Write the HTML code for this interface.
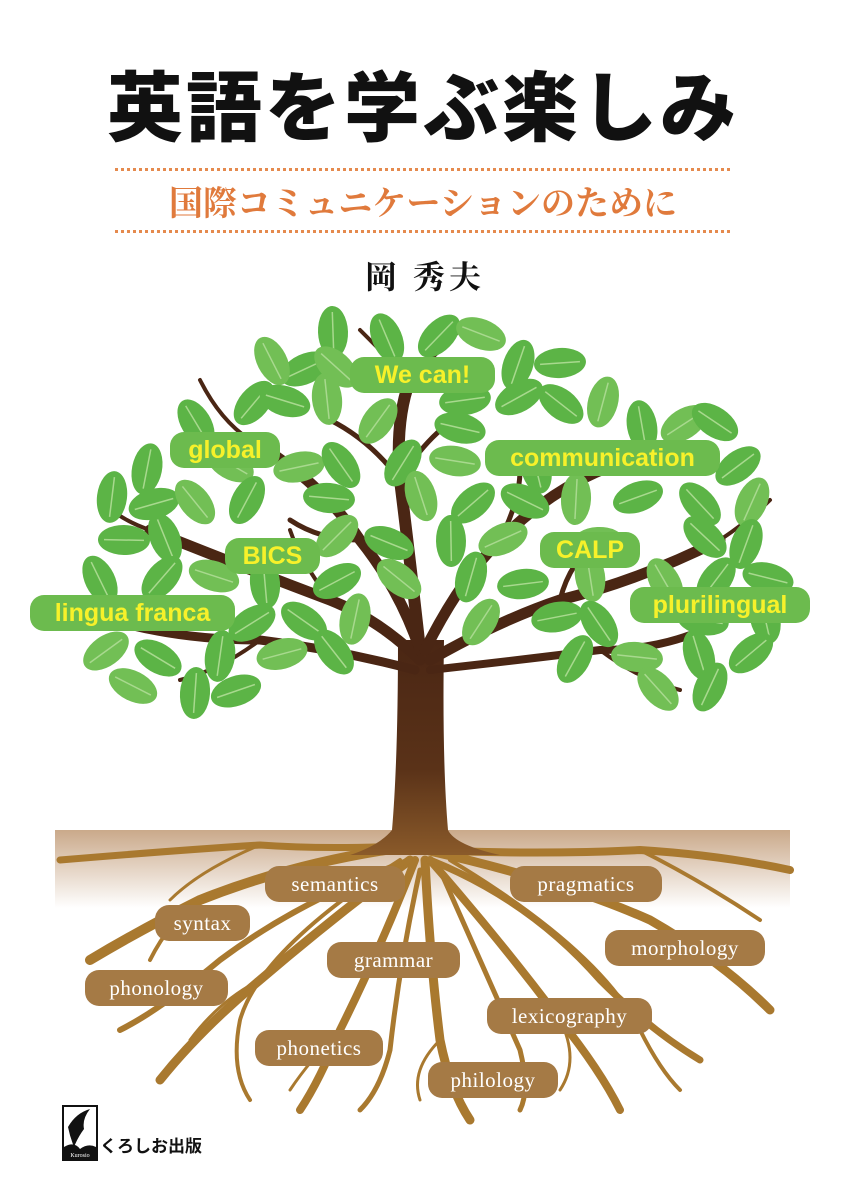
<!DOCTYPE html>
<html><head><meta charset="utf-8"><style>
html,body{margin:0;padding:0;background:#fff}
body{width:846px;height:1200px;position:relative;overflow:hidden;font-family:"Liberation Sans","Noto Sans CJK JP",sans-serif}
.t{position:absolute;left:0;width:846px;text-align:center}
.dot{position:absolute;left:115px;width:615px;height:0;border-top:3px dotted #e58a4e}
.g{position:absolute;background:#6cbb4e;border-radius:14px;color:#f7f12a;font-weight:bold;font-size:25px;text-align:center;line-height:36px;height:36px;font-family:"Liberation Sans",sans-serif}
.b{position:absolute;background:#a57a45;border-radius:14px;color:#fff;font-size:21px;text-align:center;line-height:36px;height:36px;font-family:"Liberation Serif",serif;letter-spacing:0.5px}
</style></head><body>
<div class="t" style="top:52px;font-size:76px;font-weight:900;color:#111;font-family:'Noto Sans CJK JP',sans-serif;letter-spacing:3px;line-height:100px">英語を学ぶ楽しみ</div>
<div class="dot" style="top:168px"></div>
<div class="t" style="top:176px;font-size:34px;color:#e07a3c;font-family:'Noto Serif CJK SC','Noto Sans CJK JP',serif;font-weight:bold;line-height:50px">国際コミュニケーションのために</div>
<div class="dot" style="top:230px"></div>
<div class="t" style="top:252px;font-size:32px;color:#111;font-family:'Noto Serif CJK SC',serif;font-weight:bold;line-height:46px;letter-spacing:4px;padding-left:4px;box-sizing:border-box">岡 秀夫</div>

<svg id="s" width="846" height="1200" style="position:absolute;left:0;top:0">
<defs>
<linearGradient id="gr" x1="0" y1="0" x2="0" y2="1"><stop offset="0" stop-color="#caa98a"/><stop offset="1" stop-color="#fff"/></linearGradient>
<linearGradient id="tr" x1="0" y1="0" x2="0" y2="1"><stop offset="0" stop-color="#4a2614"/><stop offset="0.6" stop-color="#5a3218"/><stop offset="1" stop-color="#8a5a2a"/></linearGradient>
</defs>
<rect x="55" y="830" width="735" height="78" fill="url(#gr)"/>
<g id="roots" fill="none" stroke="#a9792f" stroke-linecap="round"></g>
<path d="M398 640 Q398 760 392 830 Q380 845 350 855 L500 855 Q455 845 448 830 Q442 760 444 640 Z" fill="url(#tr)"/>
<g id="br" fill="none" stroke="#4a2614" stroke-linecap="round"></g>
<g id="lv"></g>
</svg>

<div class="g" style="left:350px;top:357px;width:145px">We can!</div>
<div class="g" style="left:170px;top:432px;width:110px">global</div>
<div class="g" style="left:485px;top:440px;width:235px">communication</div>
<div class="g" style="left:225px;top:538px;width:95px">BICS</div>
<div class="g" style="left:540px;top:532px;width:100px">CALP</div>
<div class="g" style="left:30px;top:595px;width:205px">lingua franca</div>
<div class="g" style="left:630px;top:587px;width:180px">plurilingual</div>

<div class="b" style="left:265px;top:866px;width:140px">semantics</div>
<div class="b" style="left:510px;top:866px;width:152px">pragmatics</div>
<div class="b" style="left:155px;top:905px;width:95px">syntax</div>
<div class="b" style="left:605px;top:930px;width:160px">morphology</div>
<div class="b" style="left:327px;top:942px;width:133px">grammar</div>
<div class="b" style="left:85px;top:970px;width:143px">phonology</div>
<div class="b" style="left:487px;top:998px;width:165px">lexicography</div>
<div class="b" style="left:255px;top:1030px;width:128px">phonetics</div>
<div class="b" style="left:428px;top:1062px;width:130px">philology</div>

<div style="position:absolute;left:62px;top:1105px;width:32px;height:52px;border:2px solid #111;background:#fff;overflow:hidden">
<svg width="32" height="52"><path d="M4 20 Q12 6 26 2 Q18 12 20 22 Q14 30 10 40 Q6 30 4 20Z" fill="#111"/><path d="M0 40 Q10 34 16 42 Q24 36 32 40 L32 52 L0 52Z" fill="#111"/><text x="16" y="50" font-size="6" fill="#fff" text-anchor="middle" font-family="Liberation Serif">Kurosio</text></svg></div>
<div style="position:absolute;left:100px;top:1133px;font-size:17px;font-weight:bold;color:#111;font-family:'Noto Sans CJK JP',sans-serif;line-height:24px">くろしお出版</div>

<script>
var NS="http://www.w3.org/2000/svg";
function P(g,d,w){var p=document.createElementNS(NS,"path");p.setAttribute("d",d);p.setAttribute("stroke-width",w);document.getElementById(g).appendChild(p);}
var R=[["M420 845 Q300 860 200 900 Q140 930 90 960",10],["M420 845 Q330 850 260 845 Q180 850 60 860",7],["M420 850 Q540 855 640 850 Q720 855 790 870",8],["M425 850 Q560 880 650 920 Q720 960 770 1010",9],
["M410 860 Q330 920 260 980 Q200 1030 160 1080",9],["M415 860 Q380 950 340 1030 Q320 1080 300 1110",8],["M425 860 Q430 960 440 1040 Q450 1090 470 1120",9],
["M430 860 Q500 940 560 1020 Q600 1070 620 1110",8],["M430 860 Q530 900 600 980 Q650 1030 700 1060",7],["M410 860 Q300 900 220 960 Q160 1010 120 1030",6],
["M420 870 Q400 960 390 1050 Q380 1090 360 1110",5],["M440 870 Q480 960 520 1050 Q530 1090 520 1110",5],["M400 860 Q260 950 240 1020 Q230 1070 250 1100",4],
["M450 860 Q600 950 640 1030 Q660 1070 680 1090",4],["M200 900 Q170 920 150 960",4],["M640 850 Q700 880 760 920",4],["M260 845 Q200 870 170 900",3],
["M340 1030 Q310 1060 290 1090",3],["M560 1020 Q580 1060 560 1090",3],["M440 1040 Q410 1070 420 1100",3],["M260 980 Q220 1000 190 1040",3]];
R.forEach(function(r){P("roots",r[0],r[1]);});
var B=[["M420 660 Q380 620 330 600 Q250 570 150 530",11],["M420 650 Q400 590 360 540 Q320 480 250 440",11],["M420 650 Q410 560 400 480 Q395 420 410 380",12],
["M425 650 Q460 580 500 540 Q560 480 630 460",11],["M430 660 Q500 620 560 600 Q640 580 720 540",11],["M415 670 Q340 650 260 640 Q180 640 110 620",9],
["M430 670 Q520 660 600 650 Q680 650 740 610",8],["M400 480 Q370 440 330 420",5],["M400 480 Q430 430 470 410",5],["M360 540 Q320 540 290 520",5],
["M500 540 Q520 500 520 470",5],["M560 600 Q570 560 600 540",5],["M330 600 Q300 560 290 530",4],["M250 440 Q220 420 200 380",4],["M630 460 Q670 440 700 420",4],
["M720 540 Q750 520 770 500",4],["M150 530 Q120 520 100 500",4],["M410 380 Q380 350 360 330",4],["M410 380 Q440 350 460 330",4],["M260 640 Q220 670 180 680",4],["M600 650 Q640 680 680 690",4]];
B.forEach(function(r){P("br",r[0],r[1]);});
var rows=[[335,[390,440,480,330]],[365,[300,340,520,560,270]],[400,[250,290,330,520,560,600,460]],[425,[200,380,460,640,680,720]],
[465,[150,300,340,400,450,540,740,230]],[500,[110,150,200,250,330,420,470,520,580,640,700,750]],[540,[120,170,340,390,450,500,700,750,600]],
[580,[100,160,210,270,340,400,470,520,660,720,770,590]],[620,[250,300,360,560,600,480,700,760]],[655,[110,160,220,280,330,580,640,700,750]],[690,[130,190,240,660,710]]];
var lv=document.getElementById("lv"),k=0;
rows.forEach(function(r){r[1].forEach(function(x){k++;var a=((k*67)%180)-90;var dx=((k*13)%11)-5,dy=((k*7)%9)-4;
var e=document.createElementNS(NS,"ellipse");e.setAttribute("cx",x+dx);e.setAttribute("cy",r[0]+dy);e.setAttribute("rx",15);e.setAttribute("ry",26);
e.setAttribute("fill",k%3?"#5cb446":"#72bf55");e.setAttribute("transform","rotate("+a+" "+(x+dx)+" "+(r[0]+dy)+")");lv.appendChild(e);
var l=document.createElementNS(NS,"line");l.setAttribute("x1",x+dx);l.setAttribute("y1",r[0]+dy-20);l.setAttribute("x2",x+dx);l.setAttribute("y2",r[0]+dy+20);
l.setAttribute("stroke","#a8d98e");l.setAttribute("stroke-width","1.5");l.setAttribute("transform","rotate("+a+" "+(x+dx)+" "+(r[0]+dy)+")");lv.appendChild(l);});});
</script>
</body></html>
